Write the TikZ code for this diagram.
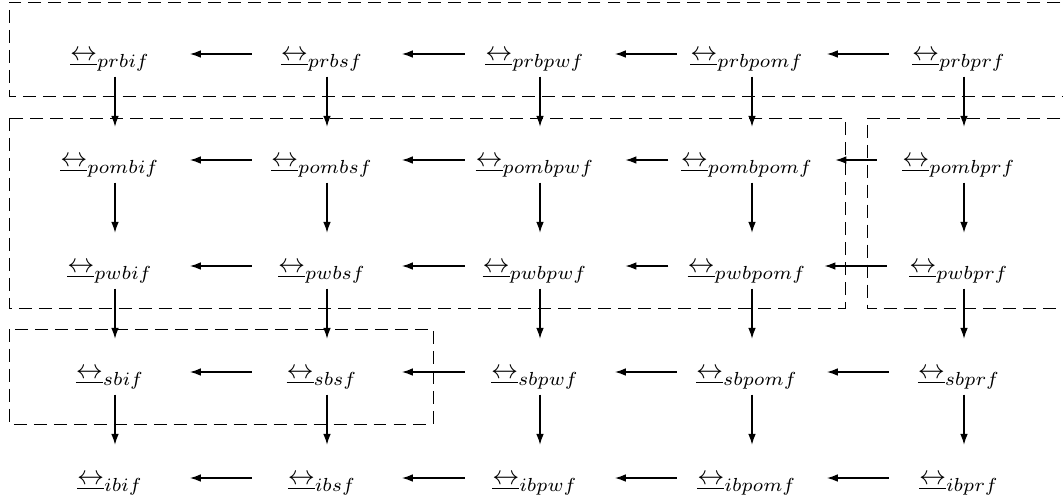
\documentclass[tikz,border=0pt]{standalone}
\usetikzlibrary{arrows.meta}
\newcommand\bis[1]{$\underline{\leftrightarrow}_{#1}$\hspace*{3.7pt}}
\begin{document}
\begin{tikzpicture}[x=0.37037pt,y=-0.37037pt,
 obj/.style={inner xsep=0pt,inner ysep=0pt,text height=7.5pt,text depth=2.5pt,minimum height=16.3pt,minimum width=55.2pt},
 arr/.style={-{Latex[length=4pt,width=2.8pt]},line width=0.4pt},
 varr/.style={arr,shorten >=4pt},
 grp/.style={dash pattern=on 4.8pt off 2.6pt,line width=0.3pt}]
\useasboundingbox (0,0) rectangle (1063,497);
\clip (0,0) rectangle (1063,497);
\foreach \r/\y in {prb/54,pomb/160,pwb/266,sb/372,ib/478}
 \foreach \c/\x in {if/115,sf/327,pwf/540,pomf/752,prf/964}
  \node[obj] (\r\c) at (\x,\y) {\bis{\r\c}};
% horizontal arrows
\foreach \r in {prb,pomb,pwb,sb,ib} {
 \draw[arr] (\r sf) -- (\r if);
 \draw[arr] (\r pwf) -- (\r sf);
}
\foreach \r in {prb,sb,ib} {
 \draw[arr] (\r pomf) -- (\r pwf);
 \draw[arr] (\r prf) -- (\r pomf);
}
\draw[arr,shorten <=3.15pt,shorten >=3.9pt] (pombpomf) -- (pombpwf);
\draw[arr,shorten <=3.15pt,shorten >=3.9pt] (pwbpomf) -- (pwbpwf);
\draw[arr,shorten <=4.6pt,shorten >=3.15pt] (pombprf) -- (pombpomf);
\draw[arr,shorten <=0.9pt,shorten >=-0.9pt] (pwbprf) -- (pwbpomf);
% vertical arrows
\foreach \c in {if,sf,pwf,pomf,prf} {
 \draw[varr] (prb\c) -- (pomb\c);
 \draw[varr] (pomb\c) -- (pwb\c);
 \draw[varr] (pwb\c) -- (sb\c);
 \draw[varr] (sb\c) -- (ib\c);
}
% dashed groups
\draw[grp] (1080,2) -- (9,2) -- (9,96) -- (1080,96);
\draw[grp] (9,118) rectangle (845,308);
\draw[grp] (1080,118) -- (867,118) -- (867,308) -- (1080,308);
\draw[grp] (9,329) rectangle (433,424);
\end{tikzpicture}
\end{document}
